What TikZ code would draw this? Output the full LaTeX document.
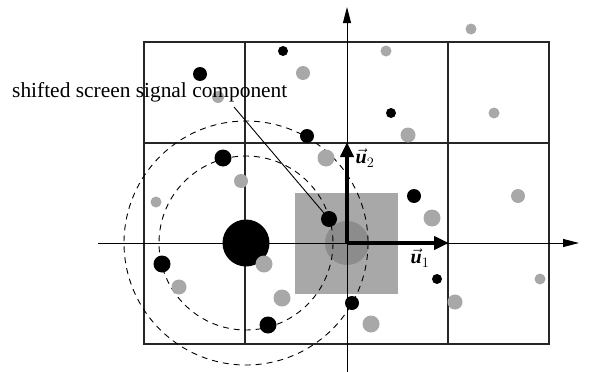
\documentclass[tikz,border=0pt]{standalone}
\usepackage{fontspec}
\setmainfont{Liberation Serif}
\usetikzlibrary{arrows.meta}
\definecolor{dotgray}{gray}{0.66}
\definecolor{sqgray}{gray}{0.66}
\definecolor{cgray}{gray}{0.55}
\tikzset{
  gridline/.style={line width=1.1pt,black!85},
  axisline/.style={line width=1pt,-{Triangle[length=16pt,width=8pt]}},
  vecline/.style={line width=4.5pt,-{Triangle[length=15pt,width=13pt]}},
  dashcirc/.style={line width=0.9pt,dash pattern=on 6pt off 5pt},
  pointer/.style={line width=0.9pt},
  bdot/.style={circle,fill=black,inner sep=0pt,minimum size=#1},
  gdot/.style={circle,fill=dotgray,inner sep=0pt,minimum size=#1},
  lbl/.style={inner sep=0pt,font=\fontsize{21.4}{25}\selectfont},
  ulbl/.style={inner sep=0pt,font=\fontsize{20}{24}\selectfont},
}
\newcommand{\uvec}[1]{$\vec{\textbf{\textit{u}}}_{#1}$}
\begin{document}
\begin{tikzpicture}[x=1pt,y=-1pt]
\useasboundingbox (0,0) rectangle (589,372);
% shaded window
\fill[sqgray] (295,193) rectangle (398,294);
\fill[cgray] (347,243) circle[radius=22];
% grid
\draw[gridline] (144,42) rectangle (549,344);
\draw[gridline] (245,42) -- (245,344);
\draw[gridline] (448,42) -- (448,344);
\draw[gridline] (144,143) -- (549,143);
% axes
\coordinate (o) at (347,243);
\coordinate (xl) at (98,243);
\coordinate (xr) at (579,243);
\coordinate (yb) at (347,372);
\coordinate (yt) at (347,7);
\coordinate (e1) at (449,243);
\coordinate (e2) at (347,142);
\draw[axisline] (xl) -- (xr);
\draw[axisline] (yb) -- (yt);
% dashed circles
\coordinate (c) at (246,243);
\draw[dashcirc] (c) circle[radius=122];
\draw[dashcirc] (c) circle[radius=87];
% big black dot
\node[bdot=47pt] (big) at (c) {};
% gray dots
\node[gdot=12pt] (g1) at (218,97) {};
\node[gdot=14pt] (g2) at (303,73) {};
\node[gdot=11pt] (g3) at (386,51) {};
\node[gdot=11pt] (g4) at (471,29) {};
\node[gdot=15pt] (g5) at (408,135) {};
\node[gdot=11pt] (g6) at (494,113) {};
\node[gdot=17pt] (g7) at (326,158) {};
\node[gdot=14pt] (g8) at (241,181) {};
\node[gdot=11pt] (g9) at (156,202) {};
\node[gdot=17pt] (g10) at (432,218) {};
\node[gdot=14pt] (g11) at (518,196) {};
\node[gdot=15pt] (g12) at (179,287) {};
\node[gdot=17pt] (g13) at (264,264) {};
\node[gdot=17pt] (g14) at (282,298) {};
\node[gdot=11pt] (g15) at (540,279) {};
\node[gdot=15pt] (g16) at (455,302) {};
\node[gdot=17pt] (g17) at (371,324) {};
% black dots
\node[bdot=14pt] (b1) at (200,74) {};
\node[bdot=10pt] (b2) at (283,51) {};
\node[bdot=17pt] (b3) at (223,158) {};
\node[bdot=14pt] (b4) at (307,136) {};
\node[bdot=10pt] (b5) at (391,113) {};
\node[bdot=14pt] (b6) at (414,196) {};
\node[bdot=16pt] (b7) at (329,219) {};
\node[bdot=17pt] (b8) at (162,264) {};
\node[bdot=17pt] (b9) at (268,325) {};
\node[bdot=14pt] (b10) at (352,303) {};
\node[bdot=10pt] (b11) at (437,279) {};
% basis vectors
\draw[vecline] (o) -- (e1);
\draw[vecline] (o) -- (e2);
\node[ulbl] (u1) at (420,258) {\uvec{1}};
\node[ulbl] (u2) at (365,158) {\uvec{2}};
% label and pointer
\node[lbl,anchor=base west] (txt) at (12,97) {shifted screen signal component};
\coordinate (ps) at (234,107);
\draw[pointer] (ps) -- (b7);
\end{tikzpicture}
\end{document}
